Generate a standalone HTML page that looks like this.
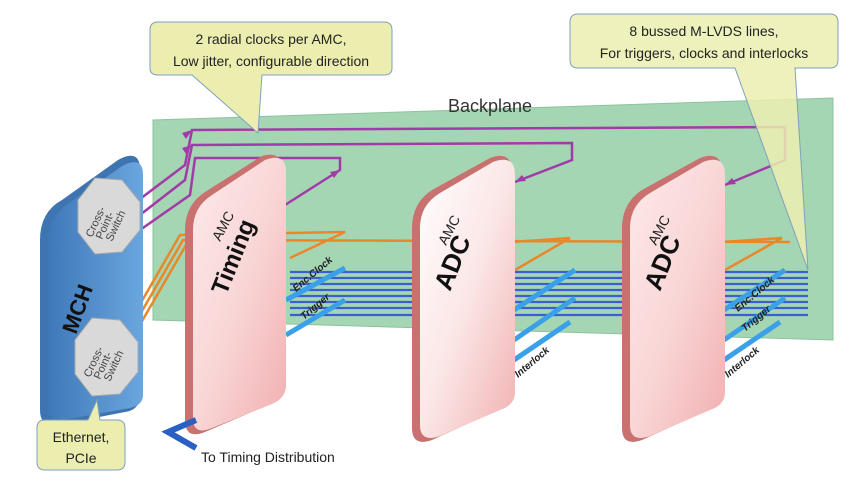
<!DOCTYPE html>
<html><head><meta charset="utf-8"><style>
html,body{margin:0;padding:0;background:#fff;}
svg{display:block;font-family:"Liberation Sans",sans-serif;}
</style></head><body>
<svg width="843" height="484" viewBox="0 0 843 484" xmlns="http://www.w3.org/2000/svg">
<defs>
<linearGradient id="pk" x1="0" y1="0" x2="1" y2="1">
<stop offset="0" stop-color="#fde9ea"/><stop offset="0.5" stop-color="#f9d6d6"/><stop offset="1" stop-color="#f1aeb0"/></linearGradient>
<linearGradient id="pk2" x1="0" y1="0" x2="1" y2="1">
<stop offset="0" stop-color="#ffffff"/><stop offset="0.5" stop-color="#fbe6e6"/><stop offset="1" stop-color="#f1b0b0"/></linearGradient>
<linearGradient id="bl" x1="0" y1="0" x2="1" y2="0">
<stop offset="0" stop-color="#3f78b8"/><stop offset="1" stop-color="#6aa6df"/></linearGradient>
</defs>
<polygon points="153,120 833,98 833,340 153,320" fill="#a5d6b4" stroke="#8cc39c"/>
<text x="448" y="112" font-size="18" fill="#333">Backplane</text>
<g stroke="#a23aa8" stroke-width="2.5" fill="none">
<polyline points="132,205 185,165 192,130 785,127 785,160 725,185"/>
<polyline points="136,218 185,180 192,145 572,143 572,160 515,182"/>
<polyline points="140,230 190,195 195,158 340,158 340,170 285,205"/>
</g>
<g fill="#a23aa8">
<polygon points="192,130 182,133 186,139"/><polygon points="192,145 182,148 186,154"/>
<polygon points="725,185 736,184 732,178"/><polygon points="515,182 526,181 522,175"/>
<polygon points="340,170 330,172 334,178"/>
</g>
<g stroke="#e8882a" stroke-width="2.5" fill="none">
<polyline points="128,325 180,235 345,232 290,258"/>
<polyline points="131,330 183,240 790,242"/>
<polyline points="134,335 186,245"/>
<polyline points="512,242 570,238 515,270"/>
<polyline points="722,242 782,238 725,270"/>
</g>
<g stroke="#3b5fcf" stroke-width="2.2">
<line x1="290" y1="272" x2="808" y2="272"/><line x1="290" y1="278" x2="808" y2="278"/>
<line x1="290" y1="284" x2="808" y2="284"/><line x1="290" y1="290" x2="808" y2="290"/>
<line x1="290" y1="296" x2="808" y2="296"/><line x1="290" y1="302" x2="808" y2="302"/>
<line x1="290" y1="308" x2="808" y2="308"/><line x1="290" y1="315" x2="808" y2="315"/>
</g>
<g stroke="#3aa0e8" stroke-width="5" fill="none">
<line x1="286" y1="300" x2="345" y2="268"/><line x1="286" y1="335" x2="345" y2="300"/>
<line x1="514" y1="310" x2="575" y2="270"/><line x1="514" y1="340" x2="575" y2="298"/><line x1="514" y1="360" x2="570" y2="322"/>
<line x1="724" y1="310" x2="785" y2="270"/><line x1="724" y1="340" x2="785" y2="298"/><line x1="724" y1="360" x2="780" y2="322"/>
</g>
<!-- MCH -->
<path d="M40,240 Q40,212 62,200 L118,160 Q140,148 140,170 L140,395 Q140,410 125,412 L58,425 Q40,428 40,410Z" fill="#3e74b0"/>
<path d="M48,242 Q48,216 68,204 L122,166 Q143,155 143,175 L143,395 Q143,405 130,408 L62,420 Q48,422 48,408Z" fill="url(#bl)"/>
<polygon points="95,178 122,180 140,202 140,230 122,252 95,254 78,232 78,200" fill="#d9d9d9" stroke="#aaa"/>
<polygon points="92,318 120,320 138,342 138,372 120,394 92,396 75,374 75,340" fill="#d9d9d9" stroke="#aaa"/>
<text transform="translate(92,238) rotate(-65)" font-size="11" fill="#444">Cross-</text>
<text transform="translate(102,240) rotate(-65)" font-size="11" fill="#444">Point-</text>
<text transform="translate(112,242) rotate(-65)" font-size="11" fill="#444">Switch</text>
<text transform="translate(90,378) rotate(-65)" font-size="11" fill="#444">Cross-</text>
<text transform="translate(100,380) rotate(-65)" font-size="11" fill="#444">Point-</text>
<text transform="translate(110,382) rotate(-65)" font-size="11" fill="#444">Switch</text>
<text transform="translate(76,335) rotate(-70)" font-size="22" font-weight="bold" fill="#111">MCH</text>
<g>
<path d="M185,230 Q185,205 205,192 L262,156 Q282,150 282,170 L282,385 Q282,398 268,405 L205,432 Q185,440 185,420Z" fill="#c8716f"/>
<path d="M193,230 Q193,207 212,195 L265,160 Q286,152 286,172 L286,385 Q286,398 272,404 L212,428 Q193,436 193,418Z" fill="url(#pk)"/>
<text transform="translate(220,242) rotate(-62)" font-size="14" fill="#222">AMC</text>
<text transform="translate(226,296) rotate(-68)" font-size="24" font-weight="bold" fill="#111">Timing</text>
<path d="M412,228 Q412,203 432,190 L490,158 Q512,150 512,172 L512,392 Q512,405 498,410 L432,440 Q412,447 412,428Z" fill="#c8716f"/>
<path d="M420,228 Q420,205 440,193 L493,162 Q515,154 515,175 L515,392 Q515,405 500,410 L440,436 Q420,443 420,425Z" fill="url(#pk2)"/>
<text transform="translate(446,246) rotate(-62)" font-size="14" fill="#222">AMC</text>
<text transform="translate(450,292) rotate(-68)" font-size="26" font-weight="bold" fill="#111">ADC</text>
<path d="M622,228 Q622,203 642,190 L700,158 Q722,150 722,172 L722,392 Q722,405 708,410 L642,440 Q622,447 622,428Z" fill="#c8716f"/>
<path d="M630,228 Q630,205 650,193 L703,162 Q725,154 725,175 L725,392 Q725,405 710,410 L650,436 Q630,443 630,425Z" fill="url(#pk)"/>
<text transform="translate(656,246) rotate(-62)" font-size="14" fill="#222">AMC</text>
<text transform="translate(660,292) rotate(-68)" font-size="26" font-weight="bold" fill="#111">ADC</text>
</g>
<g font-size="10" font-style="italic" font-weight="bold" fill="#222">
<text transform="translate(296,292) rotate(-40)">Enc.Clock</text>
<text transform="translate(304,320) rotate(-40)">Trigger</text>
<text transform="translate(518,378) rotate(-40)">Interlock</text>
<text transform="translate(738,312) rotate(-40)">Enc.Clock</text>
<text transform="translate(745,332) rotate(-40)">Trigger</text>
<text transform="translate(728,378) rotate(-40)">Interlock</text>
</g>
<polyline points="196,420 168,432 196,448" fill="none" stroke="#2a5fc4" stroke-width="6"/>
<text x="201" y="462" font-size="14" fill="#222">To Timing Distribution</text>
<g fill="#eceeb0" stroke="#7ea0c0" stroke-width="1">
<path d="M158,22 L384,22 Q392,22 392,30 L392,68 Q392,75 384,75 L262,75 L258,133 L192,75 L158,75 Q150,75 150,68 L150,30 Q150,22 158,22Z"/>
<path d="M578,14 L830,14 Q838,14 838,22 L838,60 Q838,68 830,68 L795,68 L808,270 L735,68 L578,68 Q570,68 570,60 L570,22 Q570,14 578,14Z" fill-opacity="0.85"/>
<path d="M45,420 L88,420 L97,400 L100,420 L117,420 Q125,420 125,428 L125,462 Q125,470 117,470 L45,470 Q37,470 37,462 L37,428 Q37,420 45,420Z"/>
</g>
<g font-size="14" fill="#222" text-anchor="middle">
<text x="271" y="44">2 radial clocks per AMC,</text>
<text x="271" y="66">Low jitter, configurable direction</text>
<text x="704" y="36">8 bussed M-LVDS lines,</text>
<text x="704" y="58">For triggers, clocks and interlocks</text>
<text x="81" y="442">Ethernet,</text>
<text x="81" y="463">PCIe</text>
</g>
</svg>
</body></html>
